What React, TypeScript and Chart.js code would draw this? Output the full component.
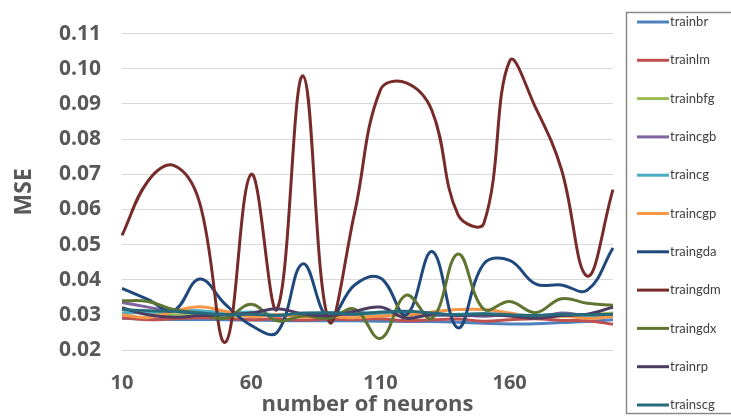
import React, { useEffect, useRef } from "react";
import { Chart, registerables } from "chart.js";

Chart.register(...registerables);

const neurons = [10, 20, 30, 40, 50, 60, 70, 80, 90, 100, 110, 120, 130, 140, 150, 160, 170, 180, 190, 200];
const shownTicks = [10, 60, 110, 160];

const trainbr = [0.0290, 0.0288, 0.0287, 0.0287, 0.0286, 0.0285, 0.0284, 0.0283, 0.0283, 0.0283, 0.0282, 0.0281, 0.0281, 0.0279, 0.0276, 0.0274, 0.0275, 0.0278, 0.0281, 0.0286];
const trainlm = [0.0292, 0.0286, 0.0289, 0.0292, 0.0290, 0.0286, 0.0289, 0.0285, 0.0288, 0.0287, 0.0289, 0.0283, 0.0286, 0.0288, 0.0282, 0.0286, 0.0289, 0.0284, 0.0283, 0.0273];
const trainbfg = [0.0315, 0.0305, 0.0300, 0.0302, 0.0298, 0.0297, 0.0300, 0.0296, 0.0298, 0.0300, 0.0300, 0.0298, 0.0302, 0.0300, 0.0297, 0.0299, 0.0297, 0.0296, 0.0300, 0.0305];
const traincgb = [0.0335, 0.0322, 0.0310, 0.0305, 0.0300, 0.0303, 0.0298, 0.0300, 0.0297, 0.0302, 0.0305, 0.0300, 0.0298, 0.0300, 0.0296, 0.0300, 0.0292, 0.0305, 0.0298, 0.0302];
const traincg = [0.0305, 0.0308, 0.0310, 0.0312, 0.0305, 0.0308, 0.0300, 0.0302, 0.0305, 0.0308, 0.0303, 0.0306, 0.0300, 0.0302, 0.0303, 0.0300, 0.0298, 0.0300, 0.0297, 0.0300];
const traincgp = [0.0300, 0.0292, 0.0310, 0.0323, 0.0310, 0.0295, 0.0300, 0.0293, 0.0295, 0.0292, 0.0297, 0.0300, 0.0308, 0.0315, 0.0315, 0.0305, 0.0292, 0.0297, 0.0290, 0.0295];
const traingda = [0.0375, 0.0344, 0.0312, 0.0402, 0.0330, 0.0270, 0.0250, 0.0445, 0.0290, 0.0385, 0.0405, 0.0300, 0.0480, 0.0263, 0.0445, 0.0455, 0.0388, 0.0385, 0.0370, 0.0490];
const traingdm = [0.0526, 0.0680, 0.0725, 0.0620, 0.0222, 0.0700, 0.0316, 0.0980, 0.0283, 0.0590, 0.0940, 0.0960, 0.0880, 0.0585, 0.0560, 0.1022, 0.0890, 0.0715, 0.0410, 0.0656];
const traingdx = [0.0340, 0.0338, 0.0315, 0.0305, 0.0290, 0.0330, 0.0283, 0.0297, 0.0290, 0.0316, 0.0233, 0.0356, 0.0290, 0.0473, 0.0316, 0.0338, 0.0306, 0.0346, 0.0333, 0.0327];
const trainrp = [0.0320, 0.0300, 0.0293, 0.0298, 0.0300, 0.0305, 0.0317, 0.0303, 0.0297, 0.0310, 0.0322, 0.0290, 0.0302, 0.0298, 0.0300, 0.0297, 0.0290, 0.0298, 0.0302, 0.0322];
const trainscg = [0.0315, 0.0312, 0.0310, 0.0305, 0.0300, 0.0302, 0.0298, 0.0305, 0.0306, 0.0302, 0.0308, 0.0310, 0.0305, 0.0300, 0.0303, 0.0300, 0.0298, 0.0302, 0.0300, 0.0302];

const seriesNames = ["trainbr", "trainlm", "trainbfg", "traincgb", "traincg", "traincgp", "traingda", "traingdm", "traingdx", "trainrp", "trainscg"];
const seriesValues = [trainbr, trainlm, trainbfg, traincgb, traincg, traincgp, traingda, traingdm, traingdx, trainrp, trainscg];
const seriesColors = ["#4F81BD", "#C0504D", "#9BBB59", "#8064A2", "#4BACC6", "#F79646", "#1F497D", "#772C2A", "#5F7530", "#4D3B62", "#276A7C"];

const AXIS_FONT = "'Open Sans', Lato, sans-serif";
const LEGEND_FONT = "Lato, 'Open Sans', sans-serif";

const boxLegend = {
  id: "boxLegend",
  afterDraw(chart: any) {
    const ctx = chart.ctx;
    const area = chart.chartArea;
    const left = area.right + 13;
    ctx.save();
    ctx.strokeStyle = "#8a8a8a";
    ctx.lineWidth = 1.5;
    ctx.strokeRect(left + 0.5, 12.5, chart.width - left + 10, 401);
    chart.data.datasets.forEach((ds: any, i: number) => {
      const y = 22 + i * 38.3;
      ctx.strokeStyle = ds.borderColor;
      ctx.lineWidth = 3;
      ctx.beginPath();
      ctx.moveTo(left + 11, y);
      ctx.lineTo(left + 43, y);
      ctx.stroke();
      ctx.fillStyle = "#404040";
      ctx.font = "13px " + LEGEND_FONT;
      ctx.textBaseline = "middle";
      ctx.textAlign = "left";
      ctx.fillText(ds.label, left + 44, y);
    });
    ctx.restore();
  },
};

export default function App() {
  const ref = useRef<HTMLCanvasElement>(null);

  useEffect(() => {
    if (!ref.current) return;
    const chart = new Chart(ref.current, {
      type: "line",
      data: {
        labels: neurons.map(String),
        datasets: seriesNames.map((name, i) => ({
          label: name,
          data: seriesValues[i],
          borderColor: seriesColors[i],
          backgroundColor: seriesColors[i],
          borderWidth: 3,
          pointRadius: 0,
          tension: 0.4,
          fill: false,
          order: seriesNames.length - i,
        })),
      },
      options: {
        responsive: false,
        animation: false,
        layout: { padding: { top: 24, right: 118, bottom: 0, left: 0 } },
        plugins: {
          legend: { display: false },
          tooltip: { enabled: false },
        },
        scales: {
          x: {
            type: "category",
            offset: false,
            grid: { display: false, drawTicks: false },
            border: { display: false },
            ticks: {
              autoSkip: false,
              maxRotation: 0,
              padding: 21,
              color: "#595959",
              font: { family: AXIS_FONT, size: 20, weight: "bold" },
              callback: function (this: any, _v: any, idx: number) {
                const n = neurons[idx];
                return shownTicks.includes(n) ? String(n) : "";
              },
            },
            title: {
              display: true,
              text: "number of neurons",
              color: "#595959",
              font: { family: AXIS_FONT, size: 22, weight: "bold", lineHeight: 1 },
              padding: { top: 0, bottom: 0 },
            },
            afterFit(scale: any) {
              scale.height = 66;
            },
          },
          y: {
            min: 0.02,
            max: 0.11,
            grid: { color: "#d9d9d9", lineWidth: 1, drawTicks: false },
            border: { display: false },
            ticks: {
              stepSize: 0.01,
              padding: 21,
              color: "#595959",
              font: { family: AXIS_FONT, size: 21, weight: "bold" },
              callback: (v: any) => Number(v).toFixed(2),
            },
            title: {
              display: true,
              text: "MSE",
              color: "#595959",
              font: { family: AXIS_FONT, size: 23, weight: "bold", lineHeight: 1 },
              padding: { top: 13, bottom: 0 },
            },
            afterFit(scale: any) {
              scale.width = 122;
            },
          },
        },
      },
      plugins: [boxLegend],
    });
    return () => chart.destroy();
  }, []);

  return (
    <div style={{ position: "absolute", left: 0, top: 0, width: 731, height: 416, background: "#fff" }}>
      <canvas ref={ref} width={731} height={416} style={{ display: "block" }} />
    </div>
  );
}
